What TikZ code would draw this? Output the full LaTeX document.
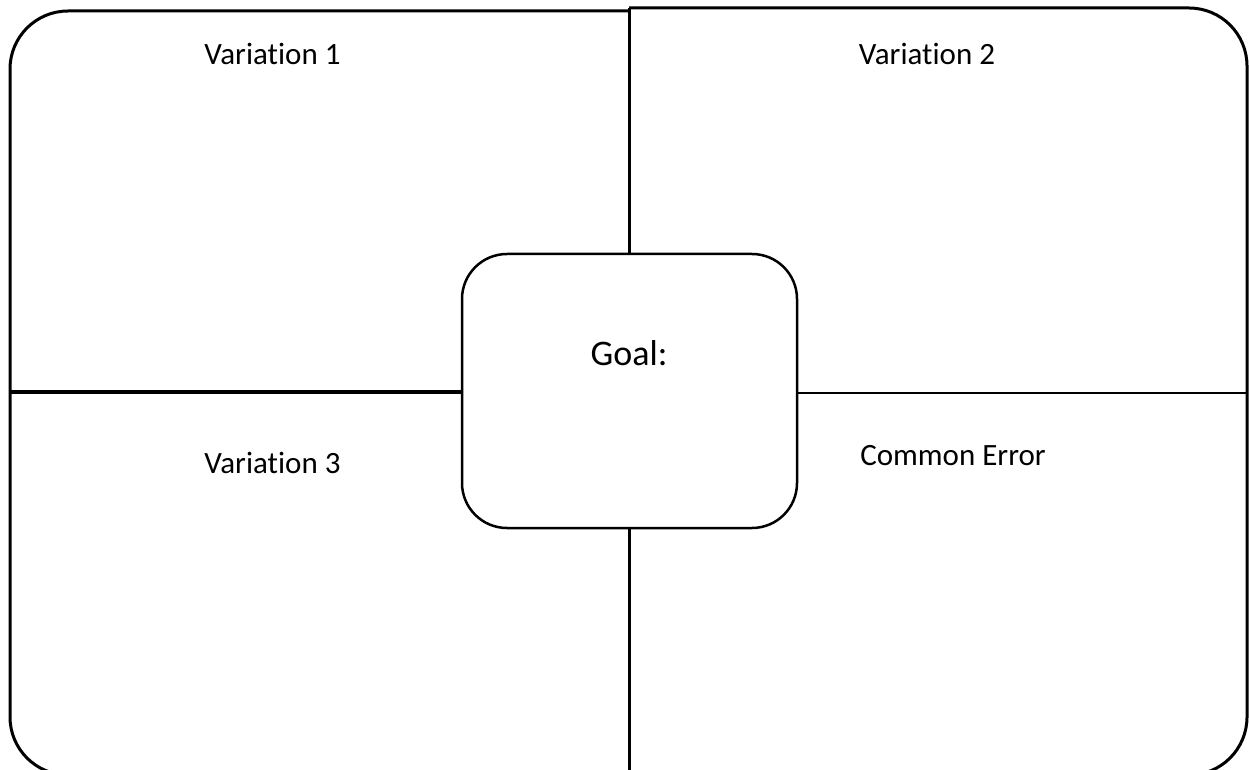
\documentclass[tikz,border=0pt]{standalone}
\usepackage{fontspec}
\setmainfont[Ligatures=NoCommon]{Carlito}
\usepackage{tikz}
\usetikzlibrary{shapes}
\tikzstyle{frame}=[draw,line width=3pt,rounded corners=58pt]
\tikzstyle{divider}=[draw,line width=3pt,-]
\tikzstyle{goal box}=[rectangle,draw,fill=white,line width=2.5pt,rounded corners=45pt,minimum width=335pt,minimum height=274pt,inner sep=0pt]
\tikzstyle{heading}=[anchor=base,inner sep=0pt,font=\fontsize{31}{37}\selectfont]

\begin{document}
\begin{tikzpicture}[x=1pt,y=1pt]
    \useasboundingbox (0,0) rectangle (1249,769);
    % First the corners of the outer frame
    \coordinate (top left) at (10,758);
    \coordinate (top mid) at (629,761);
    \coordinate (top right) at (1247,761);
    \coordinate (bottom left) at (10,-6);
    \coordinate (bottom mid) at (629,-6);
    \coordinate (bottom right) at (1247,-6);
    \coordinate (left mid) at (10,377);
    \coordinate (right mid) at (1247,376);

    % Two halves of the frame
    \path[frame] (top left -| top mid) -- (top left) -- (bottom left) -- (bottom mid);
    \path[frame] (top mid) -- (top right) -- (bottom right) -- (bottom mid);
    \path[divider] (top mid) -- (bottom mid);

    % Goal box in the middle
    \node[goal box] (goal) at (629.5,378) {};
    \node[anchor=base,inner sep=0pt,font=\fontsize{36}{43}\selectfont] (goal text) at (629,403) {Goal:};

    % Connect the box to the frame
    \path[draw,line width=4pt] (left mid) -- (left mid -| goal.west);
    \path[draw,line width=2pt] (right mid -| goal.east) -- (right mid);

    % Quadrant headings
    \foreach \pos/\name/\txt in {{(272.5,704)/var one/Variation 1}, {(927,704)/var two/Variation 2},
        {(272.5,296)/var three/Variation 3}, {(953,304)/error/Common Error}}
        \node[heading] (\name) at \pos {\txt};
\end{tikzpicture}
\end{document}
